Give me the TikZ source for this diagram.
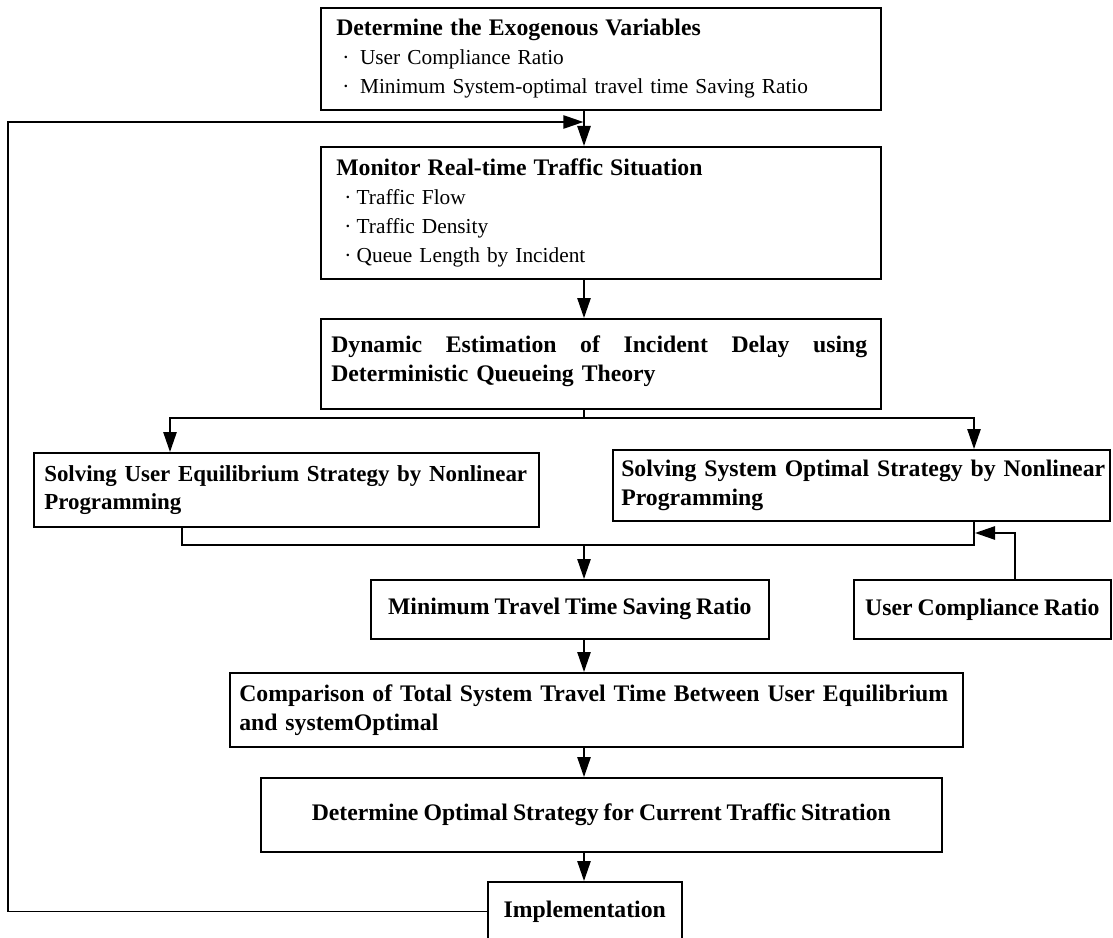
\documentclass[tikz,border=0pt]{standalone}
\usepackage{fontspec}
\setmainfont{Liberation Serif}[WordSpace=0.85]
\usetikzlibrary{arrows.meta}
\begin{document}
\begin{tikzpicture}[x=0.75pt,y=-0.75pt,
  box/.style={draw,line width=1.2pt,inner sep=0pt,anchor=north west},
  ln/.style={line width=1.2pt},
  arr/.style={line width=1.2pt,-{Triangle[length=15pt,width=10pt]}},
  hd/.style={font=\fontsize{17.8pt}{21.75pt}\selectfont\bfseries,inner sep=0pt},
  hl/.style={hd,align=left,anchor=west,text width=560pt},
  txt/.style={font=\fontsize{16pt}{21.75pt}\selectfont,inner sep=0pt,align=left,anchor=west,text width=420pt}
]
\useasboundingbox (0,0) rectangle (1113,938);

% boxes
\node[box,minimum width=420pt,minimum height=76.5pt] (b1) at (320,7) {};
\node[box,minimum width=420pt,minimum height=99pt] (b2) at (320,146) {};
\node[box,minimum width=420pt,minimum height=67.5pt] (b3) at (320,318) {};
\node[box,minimum width=378.75pt,minimum height=55.5pt] (L) at (33,452) {};
\node[box,minimum width=372.75pt,minimum height=53.25pt] (R) at (612,449) {};
\node[box,minimum width=298.5pt,minimum height=44.25pt] (minb) at (370,579) {};
\node[box,minimum width=192.75pt,minimum height=44.25pt] (uc) at (853,579) {};
\node[box,minimum width=549.75pt,minimum height=55.5pt] (cmp) at (229,672) {};
\node[box,minimum width=510.75pt,minimum height=55.5pt] (det) at (260,777) {};
\node[box,minimum width=145.5pt,minimum height=44.25pt] (impl) at (487,881) {};

% texts
\node[txt] (t1) at ([xshift=12pt]b1.west)
  {{\bfseries\fontsize{17.8pt}{21.75pt}\selectfont Determine the Exogenous Variables}\\
   \hspace*{4.5pt}·\hspace{8pt}User Compliance Ratio\\
   \hspace*{4.5pt}·\hspace{8pt}Minimum System-optimal travel time Saving Ratio};
\node[txt] (t2) at ([xshift=12pt]b2.west)
  {{\bfseries\fontsize{17.8pt}{21.75pt}\selectfont Monitor Real-time Traffic Situation}\\
   \hspace*{6pt}·\hspace{4pt}Traffic Flow\\
   \hspace*{6pt}·\hspace{4pt}Traffic Density\\
   \hspace*{6pt}·\hspace{4pt}Queue Length by Incident};
\node[hl] (t3) at ([xshift=8.25pt,yshift=2pt]b3.west)
  {\hbox to 402pt{Dynamic\hfill Estimation\hfill of\hfill Incident\hfill Delay\hfill using}\\
   Deterministic Queueing Theory};
\node[hl,font=\fontsize{17.2pt}{21pt}\selectfont\bfseries] (tL) at ([xshift=8.25pt]L.west)
  {Solving User Equilibrium Strategy by Nonlinear\\ Programming};
\node[hl] (tR) at ([xshift=6.75pt]R.west)
  {Solving System Optimal Strategy by Nonlinear\\ Programming};
\node[hd] (tmin) at (minb.center) {Minimum Travel Time Saving Ratio};
\node[hd] (tuc) at (uc.center) {User Compliance Ratio};
\node[hl] (tcmp) at ([xshift=7.5pt]cmp.west)
  {Comparison of Total System Travel Time Between User Equilibrium\\ and systemOptimal};
\node[hd] (tdet) at (det.center) {Determine Optimal Strategy for Current Traffic Sitration};
\node[hd] (timpl) at ([yshift=-0.5pt]impl.center) {Implementation};

% connectors
\coordinate (sx) at (584,0);
\coordinate (lx) at (170,0);
\coordinate (rx) at (974,0);
\coordinate (lm) at (182,0);
\coordinate (ux) at (1015,0);
\coordinate (sp) at (584,418);
\coordinate (mg) at (584,545);
\coordinate (uj) at (975,533);
\coordinate (fb) at (8,122);

\draw[arr] (b1.south -| sx) -- (b2.north -| sx);
\draw[arr] (b2.south -| sx) -- (b3.north -| sx);
\draw[ln] (b3.south -| sx) -- (sp);
\draw[arr] (sp) -| (L.north -| lx);
\draw[arr] (sp) -| (R.north -| rx);
\draw[ln] (L.south -| lm) |- (mg);
\draw[ln] (R.south -| rx) |- (mg);
\draw[arr] (mg) -- (minb.north -| sx);
\draw[arr] (uc.north -| ux) |- (uj);
\draw[arr] (minb.south -| sx) -- (cmp.north -| sx);
\draw[arr] (cmp.south -| sx) -- (det.north -| sx);
\draw[arr] (det.south -| sx) -- (impl.north -| sx);
\draw[arr] (impl.west) -| (fb) -- ([xshift=-0.5pt]fb -| sx);
\end{tikzpicture}
\end{document}
